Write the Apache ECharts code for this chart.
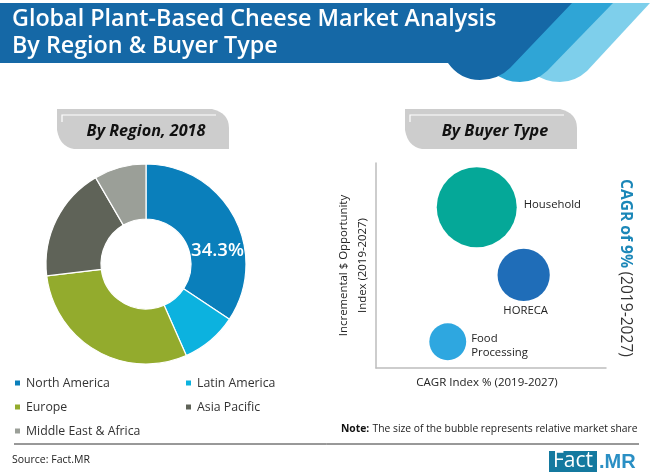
<!DOCTYPE html>
<html lang="en">
<head>
    <meta charset="UTF-8">
    <title>plant-based cheese</title>
    <style>
        html, body { margin: 0; padding: 0; background: #fff; }
        #chart { width: 650px; height: 475px; }
    </style>
</head>
<body>
<div id="chart"></div>
<script src="https://cdn.jsdelivr.net/npm/echarts@6/dist/echarts.min.js"></script>
<script>
    // region share, 2018
    var regions = ["North America", "Latin America", "Europe", "Asia Pacific", "Middle East & Africa"];
    var regionShare = [34.3, 9.1, 29.7, 18.5, 8.4];
    var regionColors = ["#0a7fbb", "#0cb2df", "#93ab2d", "#5f6358", "#9b9f98"];

    // buyer type bubbles
    var buyers = ["Household", "HORECA", "Food\nProcessing"];
    var buyerCagrIndex = [43.8, 64.2, 31.2];
    var buyerOpportunityIndex = [78.4, 45.4, 12.8];
    var buyerShare = [61, 26, 13];
    var buyerColors = ["#05a898", "#1f6db8", "#2ea7e0"];

    var font = '"Open Sans", sans-serif';

    // the graphic component has no plain "path" type, so register the decoration shapes
    function regPath(name, d) {
        echarts.graphic.registerShape(name, echarts.graphic.extendPath(d, {}));
    }
    regPath("bannerLight", "M590,3 L650,3 L587,71 Q575,82 560,82 Q545,82 530,72 Z");
    regPath("bannerMid", "M550,3 L613,3 L547,71 Q535,82 520,82 Q505,82 492,72 Z");
    regPath("bannerMain", "M0,3 L572,3 L510,68 Q498,80 480,80 Q460,80 448,63 L0,63 Z");
    regPath("tabBody", "M57,109 L212,109 Q229,113 229,128 L229,149 L74,149 Q60,147 57,130 Z");
    regPath("tabLine", "M62,122 L62,115 L216,115");

    var chart = echarts.init(document.getElementById("chart"));

    function tab(dx, text, cx) {
        return [
            { type: "tabBody", x: dx, y: 0, style: { fill: "#cdcdcd" } },
            { type: "tabLine", x: dx, y: 0, style: { fill: "none", stroke: "#fff", lineWidth: 1.2 } },
            {
                type: "text", x: cx, y: 131,
                style: { text: text, fill: "#111", font: 'italic bold 16.2px ' + font, textAlign: "center", textVerticalAlign: "middle" }
            }
        ];
    }

    var graphics = [
        { type: "bannerLight", style: { fill: "#7ecfeb" } },
        { type: "bannerMid", style: { fill: "#2fa5d6" } },
        { type: "bannerMain", style: { fill: "#1568a6" } },
        { type: "line", shape: { x1: 14, y1: 444, x2: 639, y2: 444 }, style: { stroke: "#333", lineWidth: 1 } },
        { type: "rect", shape: { x: 549, y: 451, width: 48, height: 21 }, style: { fill: "#14799f" } },
        {
            type: "text", x: 573, y: 461,
            style: { text: "Fact", fill: "#fff", font: "21px " + font, textAlign: "center", textVerticalAlign: "middle" }
        },
        {
            type: "text", x: 599, y: 462,
            style: { text: ".MR", fill: "#2a8fc4", font: 'bold 20px "Liberation Sans", sans-serif', textAlign: "left", textVerticalAlign: "middle" }
        },
        {
            type: "text", x: 12, y: 460,
            style: { text: "Source: Fact.MR", fill: "#222", font: "10.5px " + font, textVerticalAlign: "middle" }
        },
        {
            type: "text", x: 341, y: 429,
            style: {
                text: "{b|Note:} {n|The size of the bubble represents relative market share}",
                textVerticalAlign: "middle",
                rich: {
                    b: { font: "bold 10.3px " + font, fill: "#111" },
                    n: { font: "10.3px " + font, fill: "#222" }
                }
            }
        },
        {
            type: "text", x: 625, y: 268, rotation: -Math.PI / 2,
            style: {
                text: "{b|CAGR of 9%} {n|(2019-2027)}",
                textAlign: "center", textVerticalAlign: "middle",
                rich: {
                    b: { font: "bold 15.6px " + font, fill: "#1b87b8" },
                    n: { font: "15.6px " + font, fill: "#333" }
                }
            }
        }
    ].concat(tab(0, "By Region, 2018", 146)).concat(tab(348, "By Buyer Type", 495));

    var legendText = { fontFamily: font, fontSize: 12.3, color: "#333", lineHeight: 14 };

    // label placement per bubble
    var labelOpts = [
        { position: "right", align: "left", offset: [0, -3] },
        { position: "bottom", align: "center", distance: 3, offset: [2, 0] },
        { position: "right", align: "left", offset: [-2, 4] }
    ];

    chart.setOption({
        animation: false,
        backgroundColor: "#fff",
        title: {
            text: "Global Plant-Based Cheese Market Analysis\nBy Region & Buyer Type",
            left: 7, top: 1,
            textStyle: { color: "#fff", fontFamily: font, fontWeight: 600, fontSize: 23.3, lineHeight: 27 }
        },
        legend: [
            {
                orient: "vertical", left: 8, top: 371, itemGap: 10,
                itemWidth: 7, itemHeight: 7, icon: "rect",
                data: [regions[0], regions[2], regions[4]],
                textStyle: legendText
            },
            {
                orient: "vertical", left: 179, top: 371, itemGap: 10,
                itemWidth: 7, itemHeight: 7, icon: "rect",
                data: [regions[1], regions[3]],
                textStyle: legendText
            }
        ],
        grid: { left: 376, right: 44, top: 163, bottom: 107 },
        xAxis: {
            type: "value", min: 0, max: 100,
            name: "CAGR Index % (2019-2027)", nameLocation: "middle", nameGap: 9,
            nameTextStyle: { fontFamily: font, fontSize: 11.5, color: "#222", padding: [0, 8, 0, 0] },
            axisLine: { show: true, lineStyle: { color: "#bdbdbd", width: 1.5 } },
            axisTick: { show: false }, axisLabel: { show: false }, splitLine: { show: false }
        },
        yAxis: {
            type: "value", min: 0, max: 100,
            name: "Incremental $ Opportunity\nIndex (2019-2027)", nameLocation: "middle", nameGap: 4,
            nameTextStyle: { fontFamily: font, fontSize: 11.4, color: "#222", lineHeight: 19 },
            axisLine: { show: true, lineStyle: { color: "#bdbdbd", width: 1.5 } },
            axisTick: { show: false }, axisLabel: { show: false }, splitLine: { show: false }
        },
        series: [
            {
                type: "pie",
                center: [146, 264],
                radius: [45, 100],
                startAngle: 90,
                clockwise: true,
                data: regions.map(function (r, i) {
                    return {
                        name: r,
                        value: regionShare[i],
                        itemStyle: { color: regionColors[i] },
                        label: { show: i === 0 }
                    };
                }),
                itemStyle: { borderColor: "#fff", borderWidth: 1.2 },
                label: {
                    position: "inside",
                    offset: [5, 22],
                    formatter: function (p) { return p.value + "%"; },
                    color: "#fff",
                    fontFamily: font,
                    fontWeight: 600,
                    fontSize: 18.5
                },
                labelLine: { show: false },
                emphasis: { disabled: true }
            },
            {
                type: "scatter",
                data: buyers.map(function (b, i) {
                    return {
                        name: b,
                        value: [buyerCagrIndex[i], buyerOpportunityIndex[i], buyerShare[i]],
                        itemStyle: { color: buyerColors[i], opacity: 1 },
                        label: labelOpts[i]
                    };
                }),
                symbolSize: function (v) { return Math.sqrt(v[2]) * 10.24; },
                label: {
                    show: true,
                    formatter: "{b}",
                    distance: 7,
                    color: "#222",
                    fontFamily: font,
                    fontSize: 11.3,
                    lineHeight: 14
                }
            }
        ],
        graphic: graphics
    });
</script>
</body>
</html>
